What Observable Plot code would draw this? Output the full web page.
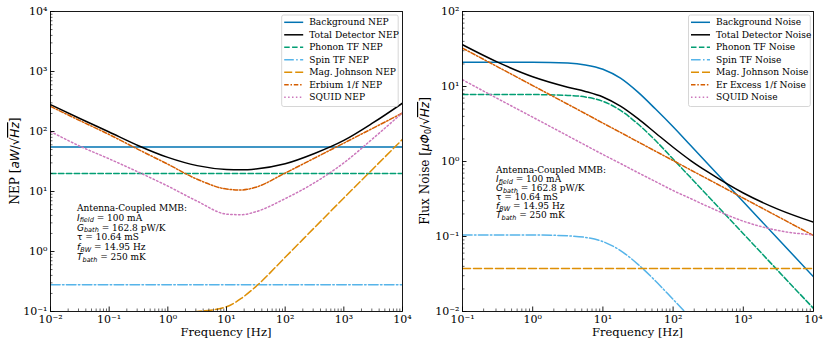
<!DOCTYPE html>
<html><head><meta charset="utf-8">
<script src="https://cdn.jsdelivr.net/npm/d3@7"></script>
<script src="https://cdn.jsdelivr.net/npm/@observablehq/plot@0.6"></script>
<style>
body{margin:0;background:#fff;}
#wrap{display:flex;width:830px;height:346px;}
</style></head><body><div id="wrap"></div>
<script>
// ---------- Left panel: NEP [aW/sqrt(Hz)] ----------
const freqL = [0.01, 0.0316, 0.1, 0.316, 1, 3.16, 10, 17.8, 31.6, 100, 316, 1000, 3162, 10000];
const nepBackground = [55, 55, 55, 55, 55, 55, 55, 55, 55, 55, 55, 55, 55, 55];
const nepTotal      = [280, 165, 98, 58, 37, 27, 23.3, 23, 23.8, 29, 43, 71, 140, 297];
const nepPhonon     = [20, 20, 20, 20, 20, 20, 20, 20, 20, 20, 20, 20, 20, 20];
const nepSpin       = [0.28, 0.28, 0.28, 0.28, 0.28, 0.28, 0.28, 0.28, 0.28, 0.28, 0.28, 0.28, 0.28, 0.28];
const nepJohnson    = [0.095, 0.095, 0.095, 0.095, 0.095, 0.1, 0.12, 0.165, 0.26, 0.8, 2.5, 7.8, 24, 74];
const nepErbium     = [262, 152, 89, 50, 28.5, 16, 11, 10.6, 11.8, 20.3, 36, 64, 114, 203];
const nepSquid      = [100, 57, 35, 21, 12.3, 6.9, 4.2, 4.1, 4.6, 7.6, 14, 30, 77, 205];
const labelsL = ["Background NEP", "Total Detector NEP", "Phonon TF NEP", "Spin TF NEP", "Mag. Johnson NEP", "Erbium 1/f NEP", "SQUID NEP"];

// ---------- Right panel: Flux noise [uPhi0/sqrt(Hz)] ----------
const freqR = [0.1, 0.316, 1, 3.16, 5.62, 10, 17.8, 31.6, 56.2, 100, 178, 316, 1000, 3162, 10000];
const fluxBackground = [21, 21, 21, 20.5, 19.4, 17, 12.9, 8.4, 5.0, 2.9, 1.63, 0.92, 0.29, 0.092, 0.029];
const fluxTotal      = [36, 21.1, 13.5, 9.8, 8.6, 7.24, 5.46, 3.72, 2.4, 1.55, 1.03, 0.72, 0.38, 0.23, 0.155];
const fluxPhonon     = [7.8, 7.8, 7.8, 7.6, 7.25, 6.35, 4.8, 3.16, 1.9, 1.08, 0.61, 0.345, 0.109, 0.0345, 0.011];
const fluxSpin       = [0.105, 0.105, 0.105, 0.102, 0.0975, 0.0855, 0.065, 0.0425, 0.0255, 0.0145, 0.0082, 0.0046, 0.0015, 0.00046, 0.00015];
const fluxJohnson    = [0.0375, 0.0375, 0.0375, 0.0375, 0.0375, 0.0375, 0.0375, 0.0375, 0.0375, 0.0375, 0.0375, 0.0375, 0.0375, 0.0375, 0.0375];
const fluxErbium     = [32.5, 18.3, 10.3, 5.8, 4.35, 3.25, 2.44, 1.83, 1.37, 1.03, 0.77, 0.58, 0.325, 0.183, 0.103];
const fluxSquid      = [12.3, 6.9, 3.9, 2.2, 1.65, 1.24, 0.94, 0.71, 0.54, 0.41, 0.32, 0.25, 0.16, 0.12, 0.105];
const labelsR = ["Background Noise", "Total Detector Noise", "Phonon TF Noise", "Spin TF Noise", "Mag. Johnson Noise", "Er Excess 1/f Noise", "SQUID Noise"];

const annotLines = [
  {main: "Antenna-Coupled MMB:"},
  {sym: "I", sub: "field", rest: " = 100 mA"},
  {sym: "G", sub: "bath", rest: " = 162.8 pW/K"},
  {sym: "τ", sub: "", rest: " = 10.64 mS", upright: true},
  {sym: "f", sub: "BW", rest: " = 14.95 Hz"},
  {sym: "T", sub: "bath", rest: " = 250 mK"}
];

const styles = [
  {stroke: "#0173b2", dash: null},
  {stroke: "#000000", dash: null},
  {stroke: "#029e73", dash: "5.5,2.4"},
  {stroke: "#56b4e9", dash: "9.6,2.4,1.5,2.4"},
  {stroke: "#de8f05", dash: "8,3"},
  {stroke: "#d55e00", dash: "4.5,1.8,1.5,1.8"},
  {stroke: "#cc78bc", dash: "1.5,2.4"}
];

const SERIF = "DejaVu Serif";
const SANS = "DejaVu Sans";
const supMap = {"-": "⁻", "0": "⁰", "1": "¹", "2": "²", "3": "³", "4": "⁴", "5": "⁵"};
const fmtPow = d => "10" + String(Math.round(Math.log10(d))).split("").map(c => supMap[c]).join("");

function panel({freq, series, labels, xDomain, yDomain, ml, mr, legendX, legendW, annot, ylabel}) {
  const W = 415, H = 346, mt = 11, mb = 35;
  const innerH = H - mt - mb, innerW = W - ml - mr;
  const xMajor = d3.range(Math.log10(xDomain[0]), Math.log10(xDomain[1]) + 1).map(e => 10 ** e);
  const yMajor = d3.range(Math.log10(yDomain[0]), Math.log10(yDomain[1]) + 1).map(e => 10 ** e);
  const xMinor = d3.scaleLog().domain(xDomain).ticks().filter(t => !xMajor.some(m => Math.abs(m - t) / t < 1e-6));
  const yMinor = d3.scaleLog().domain(yDomain).ticks().filter(t => !yMajor.some(m => Math.abs(m - t) / t < 1e-6));
  const marks = [];
  series.forEach((arr, i) => {
    const data = freq.map((f, j) => ({f, v: arr[j]}));
    marks.push(Plot.line(data, {x: "f", y: "v", stroke: styles[i].stroke, strokeWidth: 1.5,
      strokeDasharray: styles[i].dash, curve: "monotone-x", clip: true}));
  });
  marks.push(
    Plot.tickX(xMinor, {x: d => d, insetTop: innerH - 2.5, stroke: "#000", strokeWidth: 0.6}),
    Plot.tickX(xMajor, {x: d => d, insetTop: innerH - 4.5, stroke: "#000", strokeWidth: 0.9}),
    Plot.tickY(yMinor, {y: d => d, insetRight: innerW - 2.5, stroke: "#000", strokeWidth: 0.6}),
    Plot.tickY(yMajor, {y: d => d, insetRight: innerW - 4.5, stroke: "#000", strokeWidth: 0.9}),
    Plot.axisX({ticks: xMajor, tickSize: 0, tickPadding: 4, tickFormat: fmtPow, label: null, fontSize: 11}),
    Plot.axisY({ticks: yMajor, tickSize: 0, tickPadding: 3, tickFormat: fmtPow, label: null, fontSize: 11}),
    Plot.frame({stroke: "#000", strokeWidth: 0.9})
  );
  const svg = Plot.plot({
    width: W, height: H, marginLeft: ml, marginRight: mr, marginTop: mt, marginBottom: mb,
    style: {fontFamily: SERIF, fontSize: "11px", background: "#fff", color: "#000"},
    x: {type: "log", domain: xDomain},
    y: {type: "log", domain: yDomain},
    marks
  });
  const s = d3.select(svg);
  // x label
  s.append("text").attr("x", ml + innerW / 2).attr("y", 336).attr("text-anchor", "middle")
    .attr("font-family", SERIF).attr("font-size", 11.5).attr("fill", "#000").text("Frequency [Hz]");
  // y label
  const yl = s.append("text").attr("transform", `translate(${ylabel.x},${mt + innerH / 2}) rotate(-90)`)
    .attr("text-anchor", "middle").attr("font-family", SERIF).attr("font-size", 12).attr("fill", "#000");
  ylabel.build(yl);
  // legend
  const lg = s.append("g");
  lg.append("rect").attr("x", legendX).attr("y", 15).attr("width", legendW).attr("height", 91.5)
    .attr("rx", 2).attr("fill", "#fff").attr("fill-opacity", 0.85).attr("stroke", "#ccc").attr("stroke-width", 0.8);
  labels.forEach((lab, i) => {
    const yy = 22.3 + i * 12.5;
    lg.append("line").attr("x1", legendX + 2.5).attr("x2", legendX + 21.5).attr("y1", yy).attr("y2", yy)
      .attr("stroke", styles[i].stroke).attr("stroke-width", 1.5).attr("stroke-dasharray", styles[i].dash);
    lg.append("text").attr("x", legendX + 27.5).attr("y", yy).attr("dy", "0.35em").attr("text-anchor", "start")
      .attr("font-family", SERIF).attr("font-size", 9.1).attr("fill", "#000").text(lab);
  });
  // annotation
  annotLines.forEach((ln, i) => {
    const t = s.append("text").attr("x", annot.x).attr("y", annot.y + i * annot.step).attr("text-anchor", "start")
      .attr("font-family", SERIF).attr("font-size", 9).attr("fill", "#000");
    if (ln.main) { t.text(ln.main); return; }
    t.append("tspan").attr("font-family", SANS).attr("font-style", ln.upright ? "normal" : "italic").text(ln.sym);
    if (ln.sub) t.append("tspan").attr("font-family", SANS).attr("font-style", "italic").attr("font-size", 6.5).attr("dy", 1.5).text(ln.sub);
    t.append("tspan").attr("dy", ln.sub ? -1.5 : 0).text(ln.rest);
  });
  return svg;
}

const left = panel({
  freq: freqL,
  series: [nepBackground, nepTotal, nepPhonon, nepSpin, nepJohnson, nepErbium, nepSquid],
  labels: labelsL, xDomain: [0.01, 1e4], yDomain: [0.1, 1e4], ml: 50, mr: 13,
  legendX: 281.7, legendW: 116.5,
  annot: {x: 77, y: 211, step: 9.8},
  ylabel: {x: 19, build: t => {
    t.append("tspan").text("NEP [");
    t.append("tspan").attr("font-family", SANS).attr("font-style", "italic").text("aW");
    t.append("tspan").attr("font-family", SANS).text("/√");
    t.append("tspan").attr("font-family", SANS).attr("font-style", "italic").attr("text-decoration", "overline").text("Hz");
    t.append("tspan").text("]");
  }}
});
const right = panel({
  freq: freqR,
  series: [fluxBackground, fluxTotal, fluxPhonon, fluxSpin, fluxJohnson, fluxErbium, fluxSquid],
  labels: labelsR, xDomain: [0.1, 1e4], yDomain: [0.01, 100], ml: 47, mr: 17,
  legendX: 273.5, legendW: 121.8,
  annot: {x: 81, y: 173, step: 9},
  ylabel: {x: 14, build: t => {
    t.append("tspan").text("Flux Noise [");
    t.append("tspan").attr("font-family", SANS).attr("font-style", "italic").text("μΦ");
    t.append("tspan").attr("font-family", SANS).attr("font-size", 8).attr("dy", 2).text("0");
    t.append("tspan").attr("font-family", SANS).attr("dy", -2).text("/√");
    t.append("tspan").attr("font-family", SANS).attr("font-style", "italic").attr("text-decoration", "overline").text("Hz");
    t.append("tspan").text("]");
  }}
});
document.getElementById("wrap").append(left, right);
</script></body></html>
